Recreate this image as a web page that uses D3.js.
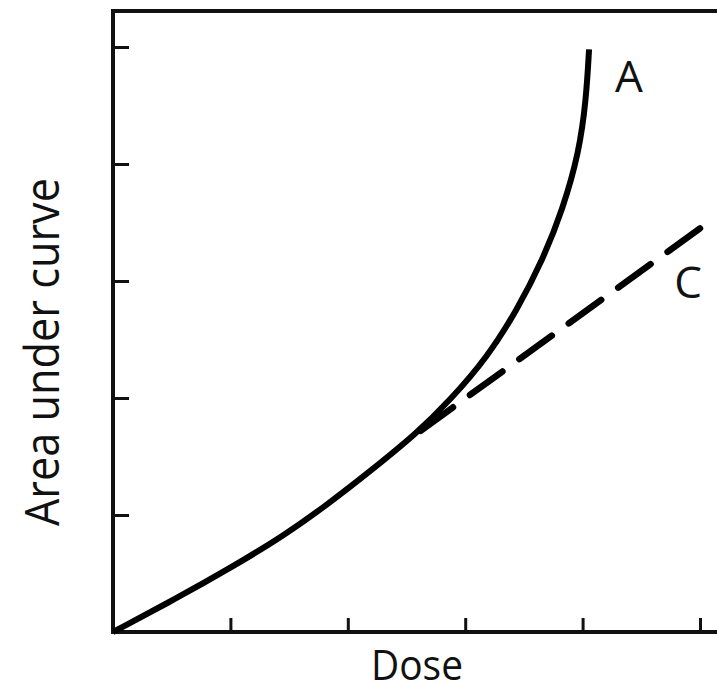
<!DOCTYPE html>
<html>
<head>
<meta charset="utf-8">
<script src="https://cdn.jsdelivr.net/npm/d3@7"></script>
<style>
  html, body { margin: 0; padding: 0; background: #fff; }
  svg { display: block; }
  text { font-family: "Open Sans", "DejaVu Sans", sans-serif; fill: #111; }
</style>
</head>
<body>
<div id="chart"></div>
<script>
// Dose / area under curve, in units of tick intervals
const tickValues = [1, 2, 3, 4, 5];

// curve A: non-linear (saturable) kinetics
const doseA = [0, 0, 0.545, 1.0, 1.45, 1.82, 2.16, 2.59, 2.87, 3.19, 3.44, 3.66, 3.83, 3.97, 4.03, 4.055, 4.055];
const aucA  = [0, 0, 0.29, 0.547, 0.82, 1.085, 1.35, 1.70, 1.98, 2.35, 2.75, 3.18, 3.61, 4.10, 4.55, 4.98, 4.98];

// curve C: linear kinetics (dashed)
const doseC = [2.62, 5.0];
const aucC  = [1.72, 3.45];

const seriesLabels = ['A', 'C'];
const xLabel = 'Dose';
const yLabel = 'Area under curve';

const width = 717, height = 693;
const margin = { top: 47, left: 113, bottom: 61 };

const svg = d3.select('#chart')
    .append('svg')
    .attr('width', width)
    .attr('height', height);

const x = d3.scaleLinear().domain([0, 5]).range([margin.left, 700]);
const y = d3.scaleLinear().domain([0, 5]).range([height - margin.bottom, margin.top]);

// frame: top line runs past the right edge of the picture
svg.append('path')
    .attr('d', `M${x(0)},11 L725,11`)
    .attr('stroke', '#111')
    .attr('stroke-width', 4)
    .attr('fill', 'none');

const xAxis = svg.append('g')
    .attr('transform', `translate(0,${y(0)})`)
    .call(d3.axisBottom(x).tickValues(tickValues).tickSize(-14).tickSizeOuter(0).tickFormat(''));
xAxis.select('.domain').attr('d', `M${x(0) - 2},0 H725`);

const yAxis = svg.append('g')
    .attr('transform', `translate(${x(0)},0)`)
    .call(d3.axisLeft(y).tickValues(tickValues).tickSize(-16).tickSizeOuter(0).tickFormat(''));
yAxis.select('.domain').attr('d', `M0,${y(0) + 2} V9`);

svg.selectAll('.domain')
    .attr('stroke', '#111')
    .attr('stroke-width', 4);
svg.selectAll('.tick line')
    .attr('stroke', '#111')
    .attr('stroke-width', 3);

// B-spline smooths out small reading errors; end points are doubled to pin it
const lineA = d3.line()
    .x((d) => x(d[0]))
    .y((d) => y(d[1]))
    .curve(d3.curveBasis);

const lineC = d3.line()
    .x((d) => x(d[0]))
    .y((d) => y(d[1]));

svg.append('path')
    .datum(d3.zip(doseC, aucC))
    .attr('d', lineC)
    .attr('fill', 'none')
    .attr('stroke', '#000')
    .attr('stroke-width', 6.5)
    .attr('stroke-linecap', 'round')
    .attr('stroke-dasharray', '40 21');

svg.append('path')
    .datum(d3.zip(doseA, aucA))
    .attr('d', lineA)
    .attr('fill', 'none')
    .attr('stroke', '#000')
    .attr('stroke-width', 6)
    .attr('stroke-linecap', 'butt');

// series labels
svg.append('text')
    .attr('x', 629)
    .attr('y', 92)
    .attr('text-anchor', 'middle')
    .attr('font-size', 44)
    .text(seriesLabels[0]);

svg.append('text')
    .attr('x', 688)
    .attr('y', 298)
    .attr('text-anchor', 'middle')
    .attr('font-size', 44)
    .text(seriesLabels[1]);

// axis titles
svg.append('text')
    .attr('x', 417)
    .attr('y', 680)
    .attr('text-anchor', 'middle')
    .attr('font-size', 42)
    .attr('textLength', 92)
    .attr('lengthAdjust', 'spacingAndGlyphs')
    .text(xLabel);

svg.append('text')
    .attr('transform', 'translate(59,352) rotate(-90)')
    .attr('text-anchor', 'middle')
    .attr('font-size', 48)
    .attr('textLength', 348)
    .attr('lengthAdjust', 'spacingAndGlyphs')
    .text(yLabel);
</script>
</body>
</html>
